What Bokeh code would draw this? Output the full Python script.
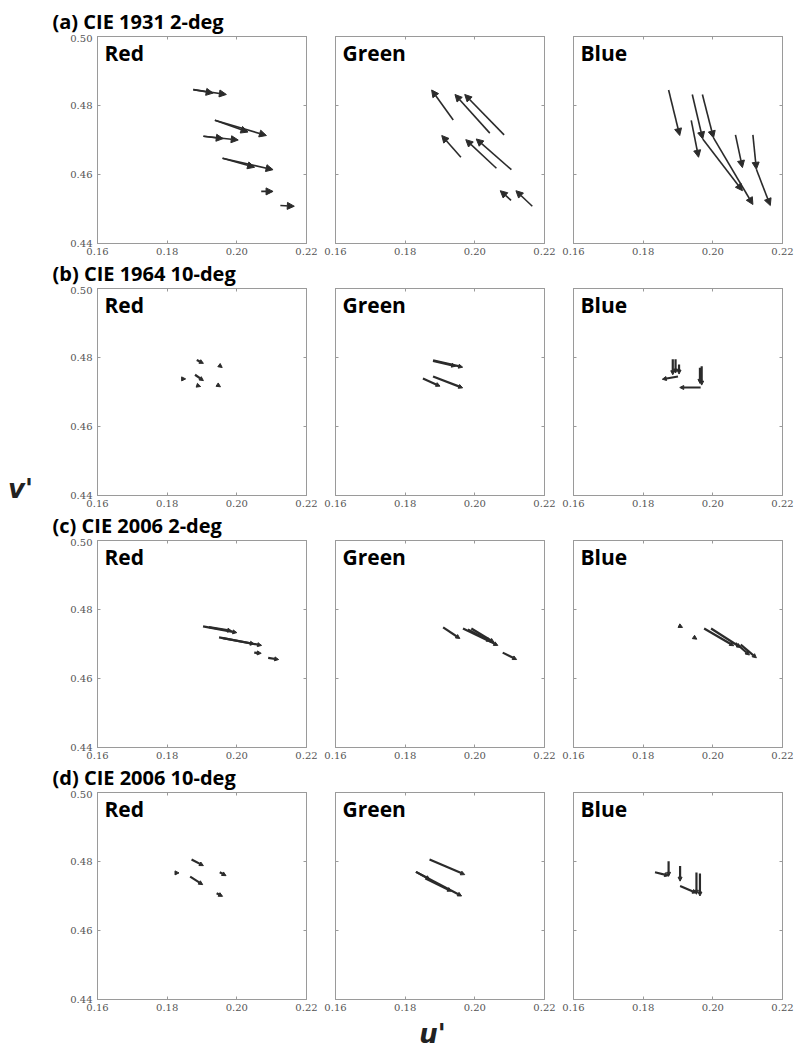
from bokeh.plotting import figure
from bokeh.models import (Arrow, NormalHead, ColumnDataSource, Label, LinearAxis,
                          FixedTicker, Range1d, PrintfTickFormatter)
from bokeh.layouts import column, row
from bokeh.embed import file_html
from bokeh.resources import INLINE

# ---------------- data (u', v' start -> end of each shift arrow) ----------------
row_titles = ["(a) CIE 1931 2-deg", "(b) CIE 1964 10-deg", "(c) CIE 2006 2-deg", "(d) CIE 2006 10-deg"]
panel_names = ["Red", "Green", "Blue"]
u_ticks = [0.16, 0.18, 0.20, 0.22]
v_ticks = [0.44, 0.46, 0.48, 0.50]
y_axis_title = "v'"
x_axis_title = "u'"

# (a) CIE 1931 2-deg
a_red_u0 = [0.1875, 0.1875, 0.1937, 0.1937, 0.1904, 0.1904, 0.1959, 0.1959, 0.2070, 0.2125]
a_red_v0 = [0.4846, 0.4846, 0.4757, 0.4757, 0.4711, 0.4711, 0.4647, 0.4647, 0.4551, 0.4510]
a_red_u1 = [0.1932, 0.1970, 0.2032, 0.2085, 0.1961, 0.2004, 0.2051, 0.2104, 0.2104, 0.2165]
a_red_v1 = [0.4836, 0.4832, 0.4723, 0.4713, 0.4704, 0.4700, 0.4621, 0.4614, 0.4551, 0.4508]

a_green_u0 = [0.1938, 0.2043, 0.2084, 0.1960, 0.2062, 0.2105, 0.2104, 0.2165]
a_green_v0 = [0.4758, 0.4720, 0.4715, 0.4650, 0.4618, 0.4614, 0.4525, 0.4508]
a_green_u1 = [0.1876, 0.1943, 0.1971, 0.1905, 0.1974, 0.2004, 0.2073, 0.2118]
a_green_v1 = [0.4845, 0.4832, 0.4832, 0.4713, 0.4701, 0.4703, 0.4553, 0.4553]

a_blue_u0 = [0.1873, 0.1941, 0.1970, 0.1938, 0.2065, 0.2115, 0.1971, 0.2002, 0.2125]
a_blue_v0 = [0.4845, 0.4832, 0.4832, 0.4757, 0.4715, 0.4715, 0.4703, 0.4706, 0.4615]
a_blue_u1 = [0.1905, 0.1971, 0.2002, 0.1959, 0.2085, 0.2125, 0.2085, 0.2115, 0.2165]
a_blue_v1 = [0.4713, 0.4703, 0.4706, 0.4650, 0.4620, 0.4615, 0.4553, 0.4513, 0.4510]

# (b) CIE 1964 10-deg
b_red_u0 = [0.1885, 0.1954, 0.1849, 0.1880, 0.1893, 0.1950]
b_red_v0 = [0.4793, 0.4774, 0.4738, 0.4750, 0.4717, 0.4717]
b_red_u1 = [0.1904, 0.1958, 0.1853, 0.1904, 0.1896, 0.1953]
b_red_v1 = [0.4783, 0.4771, 0.4738, 0.4733, 0.4716, 0.4715]

b_green_u0 = [0.1880, 0.1880, 0.1851, 0.1880]
b_green_v0 = [0.4792, 0.4790, 0.4739, 0.4745]
b_green_u1 = [0.1965, 0.1945, 0.1900, 0.1965]
b_green_v1 = [0.4772, 0.4775, 0.4717, 0.4712]

b_blue_u0 = [0.1885, 0.1893, 0.1903, 0.1968, 0.1963, 0.1965, 0.1900]
b_blue_v0 = [0.4795, 0.4795, 0.4780, 0.4775, 0.4770, 0.4713, 0.4745]
b_blue_u1 = [0.1885, 0.1893, 0.1903, 0.1968, 0.1963, 0.1905, 0.1855]
b_blue_v1 = [0.4750, 0.4755, 0.4752, 0.4720, 0.4725, 0.4713, 0.4737]

# (c) CIE 2006 2-deg
c_red_u0 = [0.1903, 0.1920, 0.1949, 0.1960, 0.2050, 0.2090]
c_red_v0 = [0.4751, 0.4749, 0.4719, 0.4717, 0.4675, 0.4660]
c_red_u1 = [0.2000, 0.1985, 0.2071, 0.2050, 0.2070, 0.2120]
c_red_v1 = [0.4733, 0.4738, 0.4696, 0.4700, 0.4673, 0.4655]

c_green_u0 = [0.1909, 0.1966, 0.1990, 0.1980, 0.2080]
c_green_v0 = [0.4748, 0.4745, 0.4745, 0.4742, 0.4675]
c_green_u1 = [0.1957, 0.2066, 0.2055, 0.2045, 0.2120]
c_green_v1 = [0.4716, 0.4696, 0.4705, 0.4708, 0.4655]

c_blue_u0 = [0.1909, 0.1951, 0.1975, 0.1995, 0.2065, 0.2080]
c_blue_v0 = [0.4750, 0.4716, 0.4745, 0.4745, 0.4703, 0.4698]
c_blue_u1 = [0.1913, 0.1954, 0.2060, 0.2080, 0.2105, 0.2125]
c_blue_v1 = [0.4748, 0.4714, 0.4695, 0.4690, 0.4668, 0.4660]

# (d) CIE 2006 10-deg
d_red_u0 = [0.1870, 0.1951, 0.1830, 0.1866, 0.1942]
d_red_v0 = [0.4806, 0.4769, 0.4767, 0.4756, 0.4708]
d_red_u1 = [0.1904, 0.1969, 0.1834, 0.1902, 0.1959]
d_red_v1 = [0.4788, 0.4759, 0.4767, 0.4733, 0.4699]

d_green_u0 = [0.1870, 0.1831, 0.1831, 0.1860]
d_green_v0 = [0.4806, 0.4770, 0.4770, 0.4750]
d_green_u1 = [0.1971, 0.1962, 0.1871, 0.1933]
d_green_v1 = [0.4762, 0.4700, 0.4748, 0.4714]

d_blue_u0 = [0.1873, 0.1906, 0.1953, 0.1963, 0.1834, 0.1906]
d_blue_v0 = [0.4801, 0.4787, 0.4768, 0.4765, 0.4769, 0.4729]
d_blue_u1 = [0.1873, 0.1906, 0.1953, 0.1963, 0.1873, 0.1953]
d_blue_v1 = [0.4757, 0.4743, 0.4705, 0.4700, 0.4759, 0.4709]

panels = [
    [(a_red_u0, a_red_v0, a_red_u1, a_red_v1), (a_green_u0, a_green_v0, a_green_u1, a_green_v1), (a_blue_u0, a_blue_v0, a_blue_u1, a_blue_v1)],
    [(b_red_u0, b_red_v0, b_red_u1, b_red_v1), (b_green_u0, b_green_v0, b_green_u1, b_green_v1), (b_blue_u0, b_blue_v0, b_blue_u1, b_blue_v1)],
    [(c_red_u0, c_red_v0, c_red_u1, c_red_v1), (c_green_u0, c_green_v0, c_green_u1, c_green_v1), (c_blue_u0, c_blue_v0, c_blue_u1, c_blue_v1)],
    [(d_red_u0, d_red_v0, d_red_u1, d_red_v1), (d_green_u0, d_green_v0, d_green_u1, d_green_v1), (d_blue_u0, d_blue_v0, d_blue_u1, d_blue_v1)],
]

# ---------------- styling / layout ----------------
FRAME_W, FRAME_H = 209, 207
GRAY = "#9a9a9a"
TICK_FONT = "DejaVu Serif"
BOLD_FONT = "Open Sans"
ARROW_COL = "#2b2b2b"
VSTRIP_W = 40
RIGHT_W = 795 - VSTRIP_W
TOTAL_H = 1057

col_borders = [(57, 14), (15, 14), (15, 13)]
PANEL_TOP, PANEL_BOTTOM = 2, 16
title_strip_h = [34, 27, 27, 27]
USTRIP_H = TOTAL_H - sum(title_strip_h) - 4 * (PANEL_TOP + FRAME_H + PANEL_BOTTOM)


def strip(width, height):
    s = figure(width=width, height=height, x_range=Range1d(0, width), y_range=Range1d(height, 0),
               min_border=0, output_backend="svg", toolbar_location=None,
               x_axis_location=None, y_axis_location=None, title=None)
    s.grid.visible = False
    s.outline_line_color = None
    s.background_fill_color = "white"
    s.border_fill_color = "white"
    return s


def blank_labels(ax, ticks):
    ax.major_label_overrides = {t: "" for t in ticks}
    ax.major_label_standoff = 0


def style_axis(ax, ticks):
    ax.ticker = FixedTicker(ticks=ticks)
    ax.formatter = PrintfTickFormatter(format="%.2f")
    ax.axis_line_color = GRAY
    ax.major_tick_line_color = GRAY
    ax.major_tick_in = 3
    ax.major_tick_out = 0
    ax.minor_tick_line_color = None
    ax.major_label_text_font = TICK_FONT
    ax.major_label_text_font_size = "10px"
    ax.major_label_text_color = "#555555"


def make_panel(ri, ci, data):
    left, right = col_borders[ci]
    p = figure(frame_width=FRAME_W, frame_height=FRAME_H,
               x_range=Range1d(0.16, 0.22), y_range=Range1d(0.44, 0.50),
               min_border_left=left, min_border_right=right,
               min_border_top=PANEL_TOP, min_border_bottom=PANEL_BOTTOM,
               output_backend="svg", toolbar_location=None,
               x_axis_location=None, y_axis_location=None, title=None)
    p.grid.visible = False
    p.outline_line_color = GRAY
    p.background_fill_color = "white"
    p.border_fill_color = "white"

    xb = LinearAxis(); style_axis(xb, u_ticks); xb.major_label_standoff = 4
    xt = LinearAxis(); style_axis(xt, u_ticks); blank_labels(xt, u_ticks)
    yl = LinearAxis(); style_axis(yl, v_ticks); yl.major_label_standoff = 5
    yr = LinearAxis(); style_axis(yr, v_ticks); blank_labels(yr, v_ticks)
    if ci != 0:
        blank_labels(yl, v_ticks)
    p.add_layout(xb, "below")
    p.add_layout(xt, "above")
    p.add_layout(yl, "left")
    p.add_layout(yr, "right")

    u0, v0, u1, v1 = data
    src = ColumnDataSource(dict(u0=u0, v0=v0, u1=u1, v1=v1))
    lw = 1.6 if ri == 0 else 2.2
    hs = 7 if ri == 0 else 4
    p.add_layout(Arrow(source=src, x_start="u0", y_start="v0", x_end="u1", y_end="v1",
                       line_color=ARROW_COL, line_width=lw,
                       end=NormalHead(size=hs, fill_color=ARROW_COL, line_color=ARROW_COL, line_width=1)))

    p.add_layout(Label(x=0.16, y=0.50, x_offset=7, y_offset=-16, text=panel_names[ci],
                       text_font=BOLD_FONT, text_font_style="bold", text_font_size="21px",
                       text_color="black", text_baseline="alphabetic"))
    return p


items = []
for ri in range(4):
    h = title_strip_h[ri]
    ts = strip(RIGHT_W, h)
    # baseline sits about 8 px above the frame top
    ts.add_layout(Label(x=12, y=h + PANEL_TOP - 8 - 7, text=row_titles[ri],
                        text_font=BOLD_FONT, text_font_style="bold", text_font_size="20px",
                        text_color="black", text_baseline="alphabetic"))
    items.append(ts)
    items.append(row([make_panel(ri, ci, panels[ri][ci]) for ci in range(3)], spacing=0))

us = strip(RIGHT_W, USTRIP_H)
us.add_layout(Label(x=392, y=18, text=x_axis_title, text_font="DejaVu Sans",
                    text_font_style="bold italic", text_font_size="26px", text_color="#222222",
                    text_baseline="alphabetic", text_align="center"))
items.append(us)

vs = strip(VSTRIP_W, TOTAL_H)
vs.add_layout(Label(x=20, y=488, text=y_axis_title, text_font="DejaVu Sans",
                    text_font_style="bold italic", text_font_size="26px", text_color="#222222",
                    text_baseline="alphabetic", text_align="center"))

layout = row([vs, column(items, spacing=0)], spacing=0)

open("out.html", "w").write(file_html(layout, INLINE))
